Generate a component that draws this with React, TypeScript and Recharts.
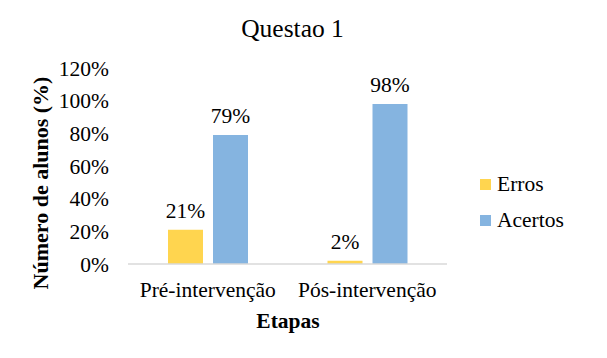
import React from "react";
import {
  BarChart,
  Bar,
  XAxis,
  YAxis,
  LabelList,
} from "recharts";

const etapas = ["Pré-intervenção", "Pós-intervenção"];
const erros = [21, 2];
const acertos = [79, 98];
const yTicks = [0, 20, 40, 60, 80, 100, 120];
const bordas = [0, 1, 2];

const COR_ERROS = "#FFD54F";
const COR_ACERTOS = "#85B4E0";
const FONTE = "'Liberation Serif'";
const TAM = 21.5;

const dados = etapas.map((e, i) => ({ etapa: e, Erros: erros[i], Acertos: acertos[i] }));

const pct = (v: number) => `${v}%`;

function Legenda() {
  const itens = [
    { nome: "Erros", cor: COR_ERROS },
    { nome: "Acertos", cor: COR_ACERTOS },
  ];
  return (
    <div style={{ position: "absolute", left: 480, top: 166, fontFamily: FONTE, fontSize: TAM, color: "#000" }}>
      {itens.map((it) => (
        <div key={it.nome} style={{ display: "flex", alignItems: "center", height: 36 }}>
          <span style={{ display: "inline-block", width: 11, height: 11, background: it.cor, marginRight: 6 }} />
          <span>{it.nome}</span>
        </div>
      ))}
    </div>
  );
}

export default function App() {
  return (
    <div style={{ position: "absolute", left: 0, top: 0, width: 607, height: 358, background: "#fff", fontFamily: FONTE }}>
      <div
        style={{
          position: "absolute",
          left: 0,
          top: 14,
          width: 585,
          textAlign: "center",
          fontSize: 25.5,
          color: "#000",
          lineHeight: "normal",
        }}
      >
        Questao 1
      </div>
      <BarChart
        width={607}
        height={358}
        data={dados}
        margin={{ top: 68, right: 160, left: 0, bottom: 34 }}
        barCategoryGap={40}
        barGap={10}
        style={{ fontFamily: FONTE }}
      >
        {/* marcas entre categorias, como no Excel */}
        <XAxis
          xAxisId="bordas"
          type="number"
          domain={[0, 2]}
          ticks={bordas}
          height={0}
          tick={false}
          axisLine={false}
          tickLine={{ stroke: "#d9d9d9", strokeWidth: 1.5 }}
          tickSize={5}
        />
        <XAxis
          dataKey="etapa"
          height={60}
          interval={0}
          axisLine={{ stroke: "#d9d9d9", strokeWidth: 1.5 }}
          tickLine={false}
          tickSize={0}
          tickMargin={18}
          tick={{ fill: "#000", fontSize: TAM, fontFamily: FONTE }}
          label={{
            content: () => (
              <text x={288} y={328} textAnchor="middle" fontSize={TAM} fontWeight="bold" fontFamily={FONTE} fill="#000">
                Etapas
              </text>
            ),
          }}
        />
        <YAxis
          width={128}
          domain={[0, 120]}
          ticks={yTicks}
          tickFormatter={pct}
          axisLine={false}
          tickLine={false}
          tickSize={0}
          tickMargin={19}
          tick={{ fill: "#000", fontSize: TAM, fontFamily: FONTE }}
          label={{
            content: () => (
              <text
                x={40}
                y={183}
                transform="rotate(-90 40 183)"
                textAnchor="middle"
                dominantBaseline="central"
                fontSize={22}
                fontWeight="bold"
                fontFamily={FONTE}
                fill="#000"
              >
                Número de alunos (%)
              </text>
            ),
          }}
        />
        <Bar dataKey="Erros" fill={COR_ERROS} barSize={35} isAnimationActive={false}>
          <LabelList dataKey="Erros" position="top" offset={12} formatter={pct} fill="#000" fontSize={TAM} fontFamily={FONTE} />
        </Bar>
        <Bar dataKey="Acertos" fill={COR_ACERTOS} barSize={35} isAnimationActive={false}>
          <LabelList dataKey="Acertos" position="top" offset={12} formatter={pct} fill="#000" fontSize={TAM} fontFamily={FONTE} />
        </Bar>
      </BarChart>
      <Legenda />
    </div>
  );
}
